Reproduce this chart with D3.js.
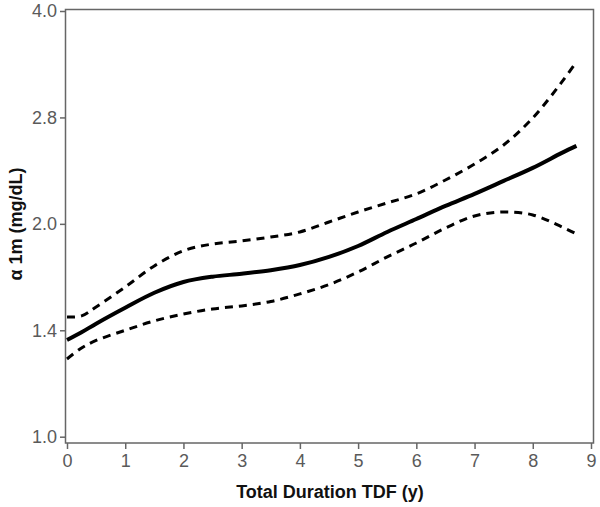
<!DOCTYPE html>
<html>
<head>
<meta charset="utf-8">
<script src="https://cdn.jsdelivr.net/npm/d3@7"></script>
<style>
  html, body { margin: 0; padding: 0; background: #fff; }
  svg { display: block; }
</style>
</head>
<body>
<svg id="chart" width="600" height="507"></svg>
<script>
const xValues = [0, 0.25, 0.5, 1, 1.5, 2, 2.5, 3, 3.5, 4, 4.5, 5, 5.5, 6, 6.5, 7, 7.5, 8, 8.5, 8.75];
const estimate = [1.370, 1.405, 1.445, 1.522, 1.598, 1.655, 1.684, 1.700, 1.720, 1.749, 1.796, 1.861, 1.948, 2.032, 2.120, 2.205, 2.300, 2.400, 2.520, 2.578];
const upper    = [1.477, 1.482, 1.526, 1.628, 1.744, 1.832, 1.873, 1.892, 1.916, 1.948, 2.012, 2.079, 2.141, 2.205, 2.307, 2.430, 2.586, 2.824, 3.175, 3.389];
const lower    = [1.288, 1.335, 1.368, 1.414, 1.458, 1.491, 1.516, 1.531, 1.553, 1.592, 1.641, 1.710, 1.796, 1.879, 1.973, 2.052, 2.079, 2.059, 1.980, 1.935];
const xTicks = [0, 1, 2, 3, 4, 5, 6, 7, 8, 9];
const yTickValues = [1, 1.4142, 2, 2.8284, 4];
const yTickLabels = ["1.0", "1.4", "2.0", "2.8", "4.0"];

const svg = d3.select("#chart");
const x = d3.scaleLinear().domain([0, 9]).range([67, 591]);
const y = d3.scaleLog().base(2).domain([1, 4]).range([436.7, 11]);

const axisColor = "#666";
const textColor = "#5a5a5a";
const font = "'Liberation Sans', Arial, sans-serif";

// frame
svg.append("rect")
  .attr("x", 65.5).attr("y", 9.5)
  .attr("width", 528).attr("height", 433.5)
  .attr("fill", "none").attr("stroke", axisColor).attr("stroke-width", 1.5);

// x axis
const xAxis = svg.append("g").attr("transform", "translate(0,443)")
  .call(d3.axisBottom(x).tickValues(xTicks).tickFormat(d3.format("d")).tickSize(6).tickPadding(5));
xAxis.select(".domain").remove();
xAxis.selectAll("line").attr("stroke", axisColor).attr("stroke-width", 1.5);
xAxis.selectAll("text").attr("fill", textColor).style("font-family", font).style("font-size", "18px");

// y axis
const yAxis = svg.append("g").attr("transform", "translate(65,0)")
  .call(d3.axisLeft(y).tickValues(yTickValues).tickFormat((d, i) => yTickLabels[i]).tickSize(5).tickPadding(3));
yAxis.select(".domain").remove();
yAxis.selectAll("line").attr("stroke", axisColor).attr("stroke-width", 1.5);
yAxis.selectAll("text").attr("fill", textColor).style("font-family", font).style("font-size", "18px");

// curves
const line = (vals) => d3.line()
  .x((d, i) => x(xValues[i]))
  .y(d => y(d))
  .curve(d3.curveCatmullRom.alpha(0.5))(vals);

svg.append("path").attr("d", line(upper))
  .attr("fill", "none").attr("stroke", "#000").attr("stroke-width", 3)
  .attr("stroke-dasharray", "8,6");
svg.append("path").attr("d", line(lower))
  .attr("fill", "none").attr("stroke", "#000").attr("stroke-width", 3)
  .attr("stroke-dasharray", "8,6");
svg.append("path").attr("d", line(estimate))
  .attr("fill", "none").attr("stroke", "#000").attr("stroke-width", 4);

// axis titles
svg.append("text")
  .attr("x", 330).attr("y", 498)
  .attr("text-anchor", "middle")
  .style("font-family", font).style("font-size", "18px").style("font-weight", "bold")
  .attr("fill", "#111")
  .text("Total Duration TDF (y)");

svg.append("text")
  .attr("transform", "translate(22,224) rotate(-90)")
  .attr("text-anchor", "middle")
  .style("font-family", font).style("font-size", "18px").style("font-weight", "bold")
  .attr("fill", "#111")
  .text("α 1m (mg/dL)");
</script>
</body>
</html>
